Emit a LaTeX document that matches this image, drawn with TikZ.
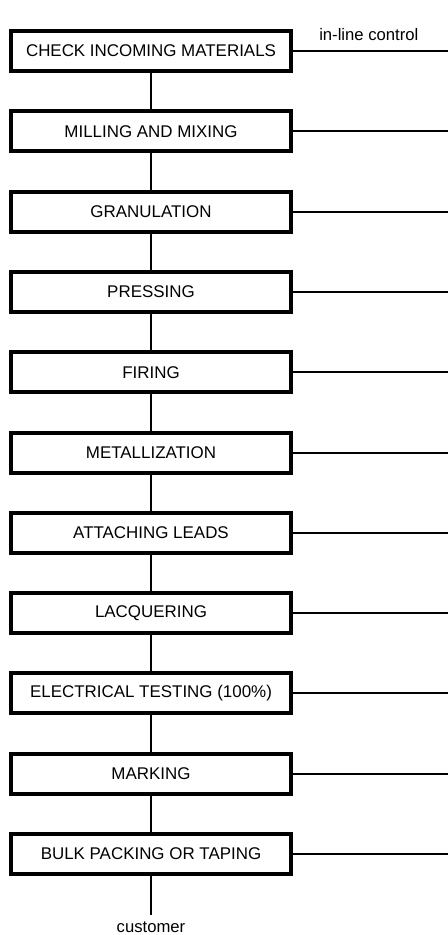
\documentclass[tikz,border=0pt]{standalone}
\usepackage{fontspec}
\setmainfont{Liberation Sans}
\tikzset{
  stepbox/.style={draw, line width=3pt, minimum width=210.4pt, minimum height=30pt, inner sep=0pt, font=\fontsize{12.7}{15}\selectfont},
  link/.style={line width=1.5pt},
  plain/.style={inner sep=0pt, font=\fontsize{12.5}{15}\selectfont}
}
\begin{document}
\begin{tikzpicture}[x=0.75pt, y=0.75pt]
\useasboundingbox (0,0) rectangle (448,-935);
\node[stepbox] (S1) at (151,-51) {CHECK INCOMING MATERIALS};
\node[stepbox] (S2) at (151,-131.3) {MILLING AND MIXING};
\node[stepbox] (S3) at (151,-211.6) {GRANULATION};
\node[stepbox] (S4) at (151,-291.9) {PRESSING};
\node[stepbox] (S5) at (151,-372.2) {FIRING};
\node[stepbox] (S6) at (151,-452.5) {METALLIZATION};
\node[stepbox] (S7) at (151,-532.8) {ATTACHING LEADS};
\node[stepbox] (S8) at (151,-613.1) {LACQUERING};
\node[stepbox] (S9) at (151,-693.4) {ELECTRICAL TESTING (100\%)};
\node[stepbox] (S10) at (151,-773.7) {MARKING};
\node[stepbox] (S11) at (151,-854) {BULK PACKING OR TAPING};
\node[plain, anchor=base west] (ctrl) at (319,-40) {in-line control};
\node[plain, anchor=base] (cust) at (151,-932) {customer};
\coordinate (E) at (151,-915);
% vertical flow
\draw [link] (S1) -- (S2);
\draw [link] (S2) -- (S3);
\draw [link] (S3) -- (S4);
\draw [link] (S4) -- (S5);
\draw [link] (S5) -- (S6);
\draw [link] (S6) -- (S7);
\draw [link] (S7) -- (S8);
\draw [link] (S8) -- (S9);
\draw [link] (S9) -- (S10);
\draw [link] (S10) -- (S11);
\draw [link] (S11) -- (E);
% in-line control lines
\foreach \i in {1,...,11} {
  \coordinate (C\i) at (S\i.east -| 448,0);
  \draw [link] (S\i) -- (C\i);
}
\end{tikzpicture}
\end{document}
